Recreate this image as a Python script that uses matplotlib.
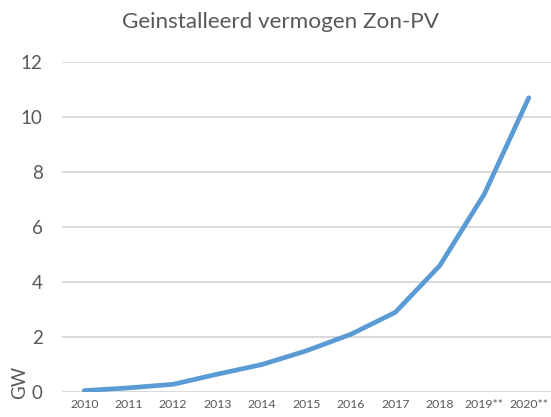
import matplotlib
matplotlib.use("Agg")
import matplotlib.pyplot as plt

years = ["2010", "2011", "2012", "2013", "2014", "2015", "2016", "2017", "2018", "2019**", "2020**"]
gw = [0.05, 0.15, 0.28, 0.65, 1.0, 1.5, 2.1, 2.9, 4.6, 7.2, 10.7]
yticks = [0, 2, 4, 6, 8, 10, 12]

plt.rcParams['font.family'] = ['Lato', 'DejaVu Sans']
fig = plt.figure(figsize=(5.51, 4.17), dpi=100)
ax = fig.add_axes([62/551, 25/417, 489/551, 330/417])

x = list(range(len(years)))
ax.plot(x, gw, color="#5B9BD5", linewidth=3.4, solid_capstyle="round", zorder=3)

ax.set_xlim(-0.5, len(years) - 0.5)
ax.set_ylim(0, 12)
ax.set_yticks(yticks)
ax.set_yticklabels([str(t) for t in yticks], fontsize=13.5, color="#595959")
ax.set_xticks(x)
ax.set_xticklabels(years, fontsize=8.8, color="#595959")
ax.tick_params(axis='both', length=0)
ax.tick_params(axis='y', pad=14)
ax.tick_params(axis='x', pad=5)
ax.grid(axis='y', color="#D9D9D9", linewidth=1.4, zorder=0)
for s in ax.spines.values():
    s.set_visible(False)

fig.text(20/551, 1 - 382/417, "GW", rotation=90, fontsize=13.5, color="#595959",
         ha="center", va="center")
fig.text(280/551, 1 - 22/417, "Geinstalleerd vermogen Zon-PV", fontsize=16.2,
         color="#595959", ha="center", va="center")

fig.savefig("out.png", dpi=100)
